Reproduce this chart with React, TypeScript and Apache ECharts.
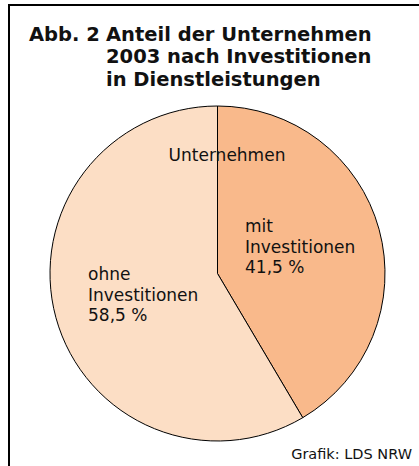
import React, { useEffect, useRef } from "react";
import * as echarts from "echarts";

const categories = ["mit\nInvestitionen", "ohne\nInvestitionen"];
const shares = [41.5, 58.5];
const sliceColors = ["#F9B98B", "#FCDEC5"];
const titlePrefix = "Abb. 2";
const titleText = "Anteil der Unternehmen\n2003 nach Investitionen\nin Dienstleistungen";
const centerLabel = "Unternehmen";
const sourceText = "Grafik: LDS NRW";

const FONT = "'DejaVu Sans', sans-serif";

function fmt(v: number) {
  return v.toFixed(1).replace(".", ",") + " %";
}

export default function App() {
  const ref = useRef<HTMLDivElement>(null);
  useEffect(() => {
    document.body.style.margin = "0";
    const chart = echarts.init(ref.current!, null, { renderer: "svg" });
    const labelPos = [
      [245, 216],
      [88, 264],
    ];
    const titleStyle = { fontFamily: FONT, fontSize: 19.5, fontWeight: "bold", color: "#111", lineHeight: 22.5 };
    chart.setOption({
      animation: false,
      backgroundColor: "#ffffff",
      title: [
        { text: titlePrefix, left: 24, top: 18, textStyle: titleStyle },
        { text: titleText, left: 101, top: 18, textStyle: titleStyle },
      ],
      series: [
        {
          type: "pie",
          center: [217.5, 273.5],
          radius: [0, 167.5],
          startAngle: 90,
          clockwise: true,
          silent: true,
          z: 1,
          label: { show: false },
          labelLine: { show: false },
          itemStyle: { borderColor: "#000", borderWidth: 1 },
          data: categories.map((c, i) => ({
            name: c,
            value: shares[i],
            itemStyle: { color: sliceColors[i] },
          })),
        },
      ],
      graphic: [
        { type: "line", z: 50, shape: { x1: 8, y1: 5, x2: 419, y2: 5 }, style: { stroke: "#000", lineWidth: 2 } },
        { type: "line", z: 50, shape: { x1: 9, y1: 4, x2: 9, y2: 466 }, style: { stroke: "#000", lineWidth: 2 } },
        {
          type: "text",
          z: 100,
          x: 227,
          y: 155,
          style: { text: centerLabel, fontFamily: FONT, fontSize: 17, fill: "#111", align: "center", verticalAlign: "middle" },
        },
        ...categories.map((c, i) => ({
          type: "text",
          z: 100,
          x: labelPos[i][0],
          y: labelPos[i][1],
          style: {
            text: c + "\n" + fmt(shares[i]),
            fontFamily: FONT,
            fontSize: 17,
            lineHeight: 20.5,
            fill: "#111",
            align: "left",
            verticalAlign: "top",
          },
        })),
        {
          type: "text",
          z: 100,
          x: 412,
          y: 454,
          style: { text: sourceText, fontFamily: FONT, fontSize: 14.5, fill: "#111", align: "right", verticalAlign: "middle" },
        },
      ],
    });
    return () => chart.dispose();
  }, []);
  return <div ref={ref} style={{ width: 419, height: 466 }} />;
}
